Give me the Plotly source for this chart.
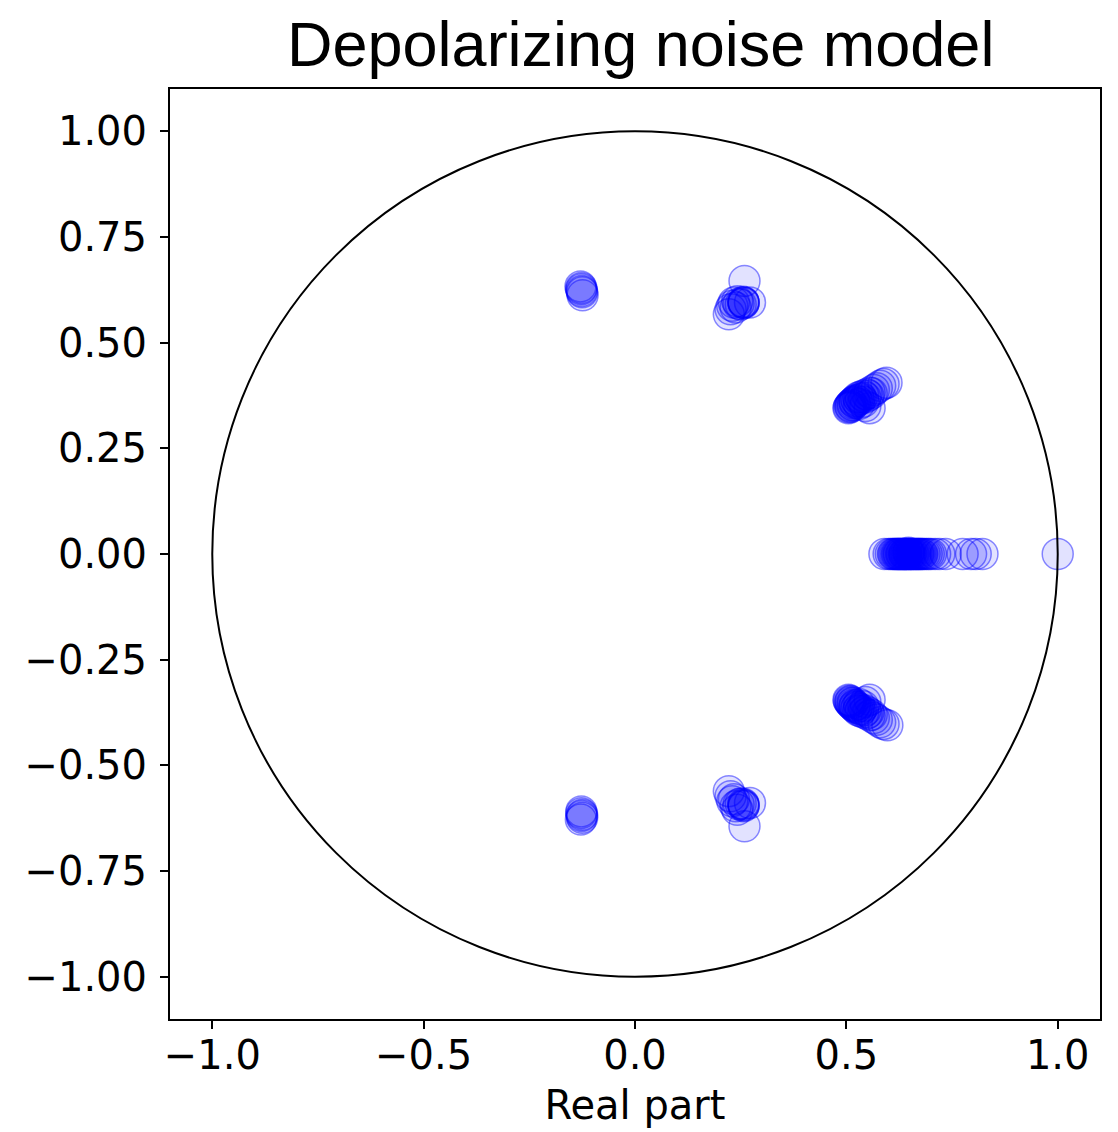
import plotly.graph_objects as go

# Eigenvalues (real part, imaginary part)
real_part = [
    # upper-left cluster
    -0.127, -0.125, -0.129, -0.124, -0.126, -0.127,
    # upper-middle cluster
    0.259, 0.257, 0.257, 0.257, 0.256, 0.272, 0.222, 0.226, 0.230, 0.234, 0.242, 0.250, 0.245, 0.238,
    # upper-right cluster
    0.505, 0.508, 0.510, 0.512, 0.515, 0.518, 0.520, 0.523, 0.525, 0.528, 0.530, 0.533,
    0.535, 0.540, 0.545, 0.548, 0.552, 0.555, 0.560, 0.565, 0.572, 0.580, 0.588, 0.595,
    0.545, 0.555, 0.530, 0.540, 0.506, 0.510, 0.515, 0.520,
    # real axis
    0.590, 0.600, 0.605, 0.610, 0.615, 0.620, 0.622, 0.625, 0.628, 0.630, 0.633, 0.636,
    0.638, 0.640, 0.643, 0.646, 0.647, 0.650, 0.653, 0.656, 0.660, 0.665, 0.670, 0.675,
    0.680, 0.685, 0.690, 0.695, 0.700, 0.710, 0.720, 0.735, 0.775, 0.795, 0.806, 0.822,
    1.000, 0.612, 0.618, 0.624, 0.631, 0.637, 0.642, 0.648, 0.652, 0.658, 0.663, 0.668,
    0.672, 0.678,
    # lower-right cluster
    0.505, 0.508, 0.510, 0.512, 0.515, 0.518, 0.520, 0.523, 0.525, 0.528, 0.530, 0.533,
    0.535, 0.540, 0.545, 0.548, 0.552, 0.555, 0.560, 0.565, 0.572, 0.580, 0.588, 0.597,
    0.545, 0.555, 0.530, 0.540, 0.506, 0.510, 0.515, 0.520,
    # lower-middle cluster
    0.259, 0.257, 0.257, 0.257, 0.256, 0.272, 0.222, 0.226, 0.230, 0.238, 0.242, 0.250, 0.245, 0.234,
    # lower-left cluster
    -0.125, -0.125, -0.127, -0.128, -0.126, -0.127,
]

imag_part = [
    # upper-left cluster
    0.626, 0.619, 0.633, 0.612, 0.622, 0.629,
    # upper-middle cluster
    0.646, 0.595, 0.595, 0.593, 0.597, 0.595, 0.567, 0.579, 0.587, 0.595, 0.598, 0.590, 0.592, 0.583,
    # upper-right cluster
    0.345, 0.350, 0.348, 0.355, 0.352, 0.360, 0.358, 0.365, 0.362, 0.370, 0.366, 0.372,
    0.368, 0.375, 0.370, 0.378, 0.375, 0.382, 0.380, 0.388, 0.392, 0.398, 0.402, 0.405,
    0.350, 0.345, 0.355, 0.360, 0.347, 0.352, 0.357, 0.362,
    # real axis
    0.000, 0.000, 0.000, 0.000, 0.000, 0.000, 0.000, 0.000, 0.000, 0.000, 0.000, 0.000,
    0.000, 0.000, 0.000, 0.000, 0.003, 0.000, 0.000, 0.000, 0.000, 0.000, 0.000, 0.000,
    0.000, 0.000, 0.000, 0.000, 0.000, 0.000, 0.000, 0.000, 0.000, 0.000, 0.000, 0.000,
    0.000, 0.000, 0.000, 0.000, 0.000, 0.000, 0.000, 0.000, 0.000, 0.000, 0.000, 0.000,
    0.000, 0.000,
    # lower-right cluster
    -0.345, -0.350, -0.348, -0.355, -0.352, -0.360, -0.358, -0.365, -0.362, -0.370, -0.366, -0.372,
    -0.368, -0.375, -0.370, -0.378, -0.375, -0.382, -0.380, -0.388, -0.392, -0.398, -0.402, -0.405,
    -0.350, -0.345, -0.355, -0.360, -0.347, -0.352, -0.357, -0.362,
    # lower-middle cluster
    -0.644, -0.593, -0.595, -0.597, -0.591, -0.589, -0.561, -0.573, -0.585, -0.597, -0.605, -0.590, -0.592, -0.580,
    # lower-left cluster
    -0.617, -0.624, -0.609, -0.628, -0.620, -0.613,
]

x_tickvals = [-1.0, -0.5, 0.0, 0.5, 1.0]
x_ticktext = ["\u22121.0", "\u22120.5", "0.0", "0.5", "1.0"]
y_tickvals = [-1.0, -0.75, -0.5, -0.25, 0.0, 0.25, 0.5, 0.75, 1.0]
y_ticktext = ["\u22121.00", "\u22120.75", "\u22120.50", "\u22120.25", "0.00",
              "0.25", "0.50", "0.75", "1.00"]

fig = go.Figure()
fig.add_trace(go.Scatter(
    x=real_part, y=imag_part, mode="markers",
    marker=dict(size=31, color="rgba(0,0,255,0.115)",
                line=dict(color="rgba(0,0,255,0.45)", width=1.5)),
    showlegend=False, hoverinfo="x+y",
))

fig.add_shape(type="circle", xref="x", yref="y", x0=-1, y0=-1, x1=1, y1=1,
              line=dict(color="black", width=2), layer="above")

tick_font = dict(family="DejaVu Sans", size=40, color="black")
fig.update_layout(
    width=1110, height=1124,
    margin=dict(l=162, r=18, t=81, b=113, autoexpand=False),
    paper_bgcolor="white", plot_bgcolor="white",
    title=dict(text="Depolarizing noise model", x=0.570, xanchor="center",
               y=0.968, yanchor="middle", yref="container",
               font=dict(family="Liberation Sans, Arial, Helvetica", size=63, color="black")),
    xaxis=dict(range=[-1.1, 1.1], tickvals=x_tickvals, ticktext=x_ticktext,
               showgrid=False, zeroline=False, showline=True, mirror=True,
               linecolor="black", linewidth=2, ticks="outside", ticklen=8,
               tickwidth=2, tickcolor="black", tickfont=tick_font, automargin=False,
               ticklabelstandoff=-8,
               title=dict(text="Real part", standoff=14,
                          font=dict(family="DejaVu Sans", size=40, color="black"))),
    yaxis=dict(range=[-1.1, 1.1], tickvals=y_tickvals, ticktext=y_ticktext,
               showgrid=False, zeroline=False, showline=True, mirror=True,
               linecolor="black", linewidth=2, ticks="outside", ticklen=8,
               tickwidth=2, tickcolor="black", tickfont=tick_font, automargin=False,
               ticklabelstandoff=5),
)

fig.write_html("out.html")
